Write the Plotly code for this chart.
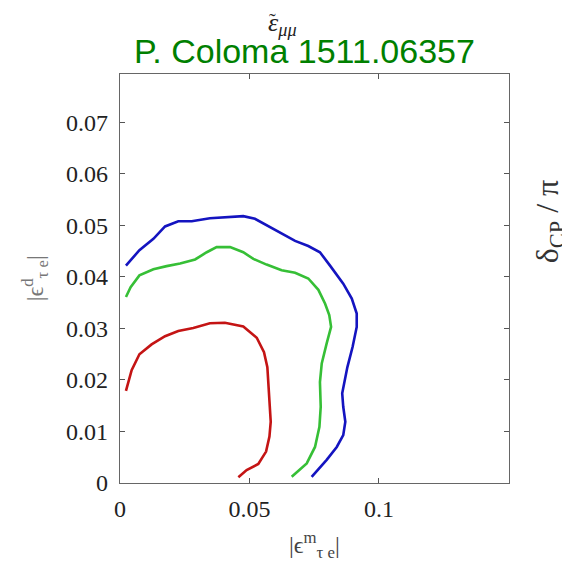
import plotly.graph_objects as go

blue_x = [0.0023, 0.0075, 0.0129, 0.0174, 0.0225, 0.0277, 0.0347, 0.0476, 0.0521, 0.0579, 0.0624, 0.0676,
          0.0727, 0.0772, 0.0811, 0.0862, 0.0895, 0.0914, 0.0914, 0.0898, 0.0878, 0.0858, 0.0862, 0.0870,
          0.0862, 0.0837, 0.0798, 0.0740]
blue_y = [0.0422, 0.0452, 0.0474, 0.0498, 0.0508, 0.0508, 0.0514, 0.0518, 0.0513, 0.0497, 0.0483, 0.0470,
          0.0460, 0.0448, 0.0422, 0.0387, 0.0358, 0.0329, 0.0303, 0.0264, 0.0225, 0.0174, 0.0148, 0.0119,
          0.0093, 0.0070, 0.0045, 0.0012]

green_x = [0.0023, 0.0041, 0.0075, 0.0129, 0.0180, 0.0232, 0.0290, 0.0335, 0.0373, 0.0425, 0.0476, 0.0515,
           0.0566, 0.0624, 0.0676, 0.0727, 0.0766, 0.0792, 0.0808, 0.0815, 0.0798, 0.0779, 0.0772, 0.0775,
           0.0770, 0.0753, 0.0721, 0.0663]
green_y = [0.0361, 0.0380, 0.0403, 0.0415, 0.0421, 0.0426, 0.0434, 0.0448, 0.0458, 0.0458, 0.0448, 0.0435,
           0.0424, 0.0413, 0.0408, 0.0397, 0.0375, 0.0348, 0.0326, 0.0303, 0.0271, 0.0232, 0.0196, 0.0148,
           0.0109, 0.0070, 0.0038, 0.0012]

red_x = [0.0023, 0.0045, 0.0075, 0.0122, 0.0174, 0.0225, 0.0283, 0.0347, 0.0405, 0.0476, 0.0528, 0.0556,
         0.0569, 0.0573, 0.0577, 0.0582, 0.0577, 0.0564, 0.0534, 0.0489, 0.0457]
red_y = [0.0179, 0.0219, 0.0250, 0.0269, 0.0285, 0.0295, 0.0301, 0.0310, 0.0311, 0.0304, 0.0282, 0.0254,
         0.0225, 0.0187, 0.0151, 0.0119, 0.0090, 0.0061, 0.0037, 0.0025, 0.0011]

x_ticks = [0, 0.05, 0.1]
x_tick_labels = ["0", "0.05", "0.1"]
y_ticks = [0, 0.01, 0.02, 0.03, 0.04, 0.05, 0.06, 0.07]
y_tick_labels = ["0", "0.01", "0.02", "0.03", "0.04", "0.05", "0.06", "0.07"]

fig = go.Figure()
for xs, ys, col in [(blue_x, blue_y, "#1414c0"), (green_x, green_y, "#36bf36"), (red_x, red_y, "#c41414")]:
    fig.add_trace(go.Scatter(x=xs, y=ys, mode="lines", line=dict(color=col, width=2.6),
                             showlegend=False, hoverinfo="skip"))

axis_common = dict(showline=True, linecolor="#666666", linewidth=1.3, mirror="ticks",
                   ticks="inside", ticklen=5, tickcolor="#555555", showgrid=False, zeroline=False,
                   tickfont=dict(family="Liberation Serif", size=24, color="#222222"))

fig.update_xaxes(range=[0, 0.1502], tickvals=x_ticks, ticktext=x_tick_labels,
                 ticklabelstandoff=4, **axis_common)
fig.update_yaxes(range=[0, 0.0794], tickvals=y_ticks, ticktext=y_tick_labels,
                 ticklabelstandoff=6, **axis_common)

fig.update_layout(
    width=562, height=565,
    margin=dict(l=112, r=61, t=66, b=90),
    paper_bgcolor="white", plot_bgcolor="white",
    annotations=[
        dict(text="<i>ε<sub>μμ</sub></i>", xref="paper", yref="paper", x=0.418, y=1.123,
             showarrow=False, font=dict(family="Liberation Serif", size=26, color="#222222"),
             xanchor="center", yanchor="middle"),
        dict(text="˜", xref="paper", yref="paper", x=0.392, y=1.1614,
             showarrow=False, font=dict(family="Liberation Serif", size=20, color="#222222"),
             xanchor="center", yanchor="top"),
        dict(text="P. Coloma 1511.06357", xref="paper", yref="paper", x=0.474, y=1.056,
             showarrow=False, font=dict(family="Liberation Sans", size=34, color="#008000"),
             xanchor="center", yanchor="middle"),
        dict(text="|ϵ<sup>d</sup><sub>τ e</sub>|", xref="paper", yref="paper", x=-0.219, y=0.5,
             showarrow=False, textangle=-90,
             font=dict(family="Liberation Serif", size=24, color="#777777"),
             xanchor="center", yanchor="middle"),
        dict(text="|ϵ<sup>m</sup><sub>τ e</sub>|", xref="paper", yref="paper", x=0.5, y=-0.152,
             showarrow=False, font=dict(family="Liberation Serif", size=24, color="#444444"),
             xanchor="center", yanchor="middle"),
        dict(text="δ<sub>CP</sub> / π", xref="paper", yref="paper", x=1.103, y=0.64,
             showarrow=False, textangle=-90,
             font=dict(family="Liberation Serif", size=32, color="#333333"),
             xanchor="center", yanchor="middle"),
    ],
)

fig.write_html("out.html")
